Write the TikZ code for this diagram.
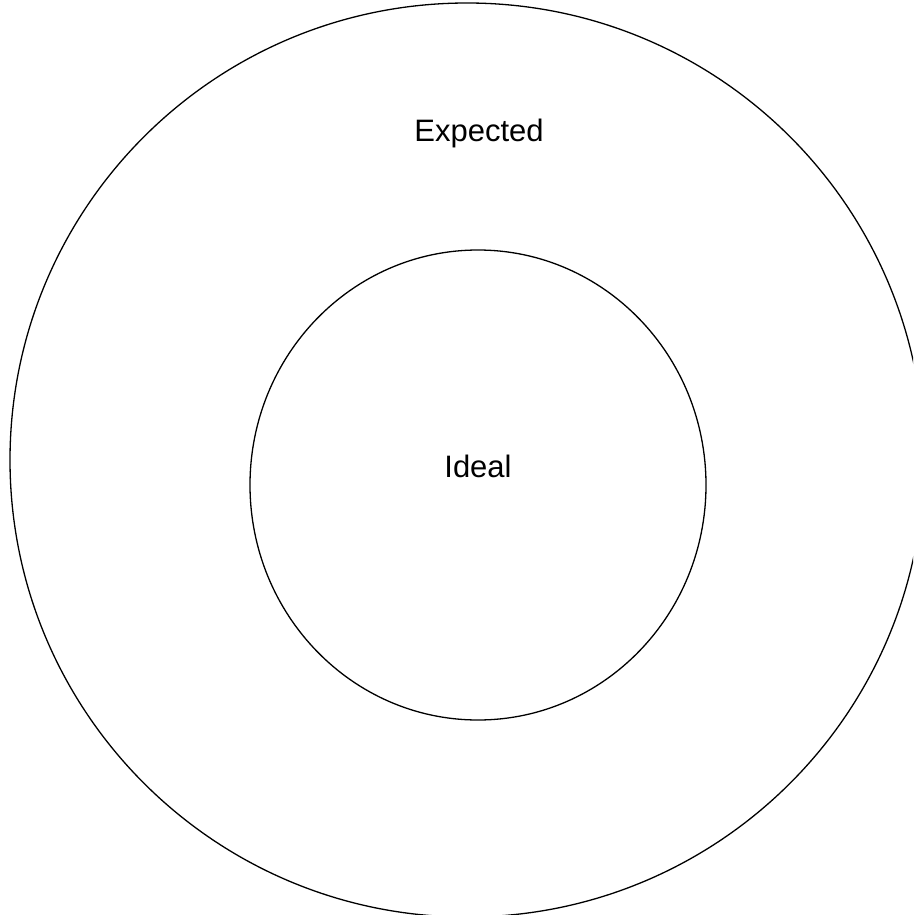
\documentclass[tikz,border=0pt]{standalone}
\usepackage{fontspec}
\setmainfont{Liberation Sans}
\usetikzlibrary{shapes.geometric}

\begin{document}
\begin{tikzpicture}[x=1pt,y=-1pt,line width=1.3pt]
\useasboundingbox (0,0) rectangle (913,915);
\clip (0,0) rectangle (913,915);
\coordinate (O) at (467,460); \coordinate (I) at (478,485);
\draw (O) circle [radius=457];
\draw (I) ellipse [x radius=228, y radius=235];
\node[font=\fontsize{31}{37}\selectfont] (expected) at (479,133) {Expected};
\node[font=\fontsize{31}{37}\selectfont] (ideal) at (478,466) {Ideal};
\end{tikzpicture}
\end{document}
